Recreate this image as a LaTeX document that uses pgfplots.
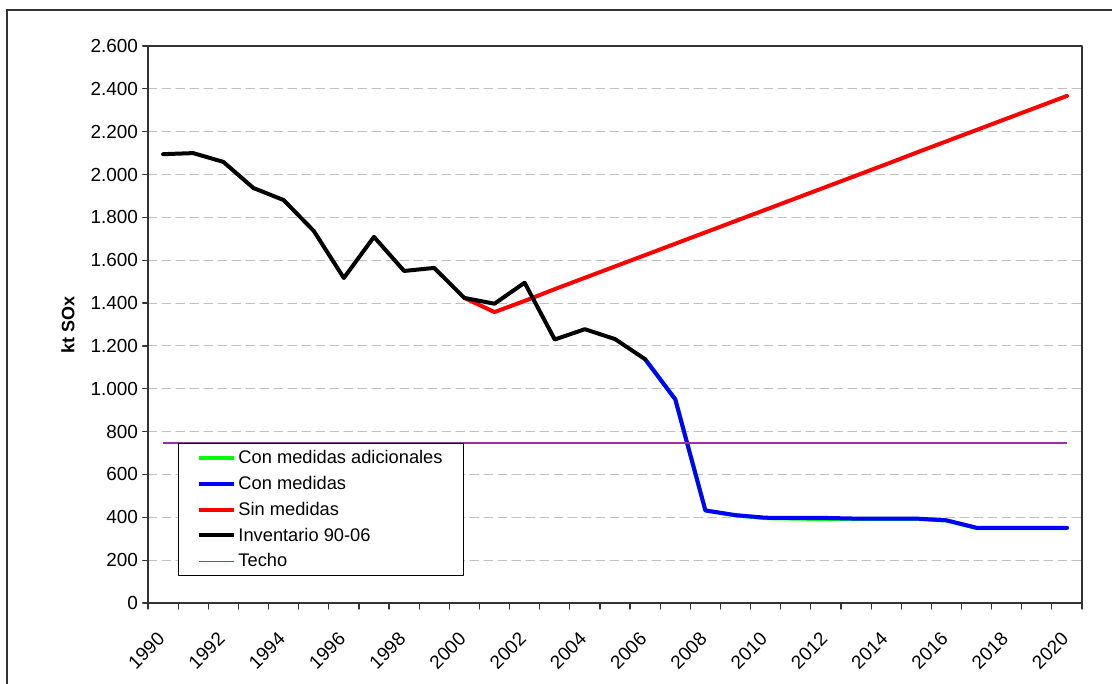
\documentclass[border=0pt]{standalone}
\usepackage{fontspec}
\setmainfont{Liberation Sans}
\usepackage{pgfplots}
\pgfplotsset{compat=1.18}
\definecolor{cgreen}{RGB}{0,255,0}
\definecolor{cblue}{RGB}{0,0,255}
\definecolor{cred}{RGB}{255,0,0}
\definecolor{techo}{RGB}{153,51,160}
\definecolor{gridc}{RGB}{192,192,192}
\begin{document}
\begin{tikzpicture}[x=1pt,y=1pt]
\useasboundingbox (-111,-60.75) rectangle (723,452.25);
\draw[black!80, line width=1.1pt] (-105.75,-62) -- (-105.75,444.75) -- (725,444.75);
\begin{axis}[
  at={(0,0)}, anchor=south west,
  scale only axis, width=700.5pt, height=417.75pt,
  xmin=1989.5, xmax=2020.5, ymin=0, ymax=2600,
  xtick={1990,1992,...,2020},
  minor xtick={1989.5,1990.5,...,2020.5},
  ytick={0,200,...,2600},
  xtick pos=bottom, ytick pos=left,
  tick align=outside,
  major tick length=4pt, minor tick length=4.5pt,
  x tick style={draw=none},
  minor x tick style={draw=black!80, line width=0.9pt},
  y tick style={draw=black!80, line width=0.9pt},
  axis line style={black!80, line width=1.1pt},
  ymajorgrids,
  grid style={gridc, line width=0.8pt, dash pattern=on 6.5pt off 4pt},
  /pgf/number format/assume math mode=true,
  tick label style={font=\fontsize{14.2}{16}\selectfont},
  y tick label style={/pgf/number format/.cd, 1000 sep={.}},
  x tick label style={rotate=45, anchor=north east, xshift=-12pt, yshift=-5pt, /pgf/number format/1000 sep={}},
  ylabel={kt SOx},
  ylabel style={font=\bfseries\fontsize{13.5}{15}\selectfont, at={(axis description cs:-0.0857,0.5)}, anchor=center},
  legend style={at={(axis description cs:0.0321,0.2873)}, anchor=north west,
    draw=black, line width=0.75pt, fill=white, font=\fontsize{13.7}{15.5}\selectfont,
    row sep=4pt, inner xsep=14pt, inner ysep=3pt},
  legend cell align=left,
  legend image code/.code={\draw[#1] (0pt,0pt) -- (26pt,0pt);},
  line join=round, line cap=round,
]
\addplot[cgreen, line width=3pt] coordinates {
 (2006,1138) (2007,951) (2008,432) (2009,409) (2010,396) (2011,394) (2012,392)
 (2013,392) (2014,393) (2015,393) (2016,385) (2017,350) (2018,350) (2019,350) (2020,350)};
\addlegendentry{Con medidas adicionales}
\addplot[cblue, line width=3pt] coordinates {
 (2006,1138) (2007,951) (2008,432) (2009,410) (2010,398) (2011,397) (2012,397)
 (2013,394) (2014,394) (2015,394) (2016,386) (2017,351) (2018,351) (2019,351) (2020,351)};
\addlegendentry{Con medidas}
\addplot[cred, line width=3pt] coordinates {
 (2000,1424) (2001,1358) (2002,1410) (2003,1465) (2004,1518) (2005,1571) (2006,1624)
 (2007,1677) (2008,1730) (2009,1783) (2010,1836) (2011,1889) (2012,1942) (2013,1995)
 (2014,2048) (2015,2102) (2016,2155) (2017,2208) (2018,2261) (2019,2314) (2020,2367)};
\addlegendentry{Sin medidas}
\addplot[black, line width=3pt] coordinates {
 (1990,2095) (1991,2100) (1992,2059) (1993,1937) (1994,1881) (1995,1737) (1996,1517)
 (1997,1709) (1998,1550) (1999,1564) (2000,1424) (2001,1397) (2002,1495) (2003,1230)
 (2004,1278) (2005,1232) (2006,1138)};
\addlegendentry{Inventario 90-06}
\addplot[techo, line width=1.1pt, line cap=butt] coordinates {(1990,746) (2020,746)};
\addlegendentry{Techo}
\end{axis}
\end{tikzpicture}
\end{document}
